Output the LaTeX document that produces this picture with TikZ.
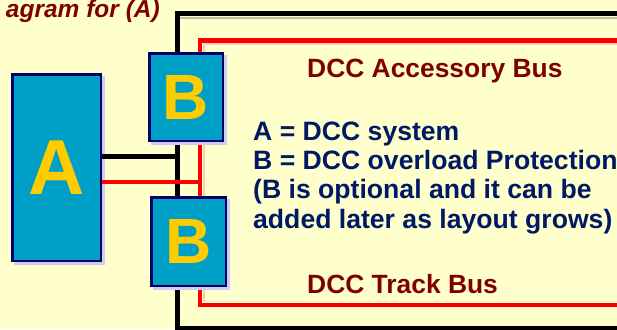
\documentclass[tikz,border=0pt]{standalone}
\usepackage{fontspec}
\setmainfont{Liberation Sans}
\definecolor{bgyellow}{RGB}{255,255,204}
\definecolor{boxblue}{RGB}{0,159,198}
\definecolor{boxedge}{RGB}{0,0,102}
\definecolor{lettery}{RGB}{255,204,0}
\definecolor{darkred}{RGB}{128,0,0}
\definecolor{navytext}{RGB}{0,25,102}
\definecolor{busred}{RGB}{255,0,0}
\definecolor{shadowlav}{RGB}{205,205,245}
\definecolor{shadowgray}{RGB}{190,190,170}
\definecolor{shadowpink}{RGB}{255,200,190}
\tikzset{
  unitbox/.style={draw=boxedge, line width=2.5pt, fill=boxblue, inner sep=0pt,
    text=lettery, font=\bfseries},
  busline/.style={line width=4.5pt, busred},
  blackline/.style={line width=5pt, black},
  redlabel/.style={text=darkred, font=\fontsize{26.4}{30}\selectfont\bfseries, inner sep=0pt},
  bluelabel/.style={text=navytext, font=\fontsize{26.6}{29.3}\selectfont\bfseries, inner sep=0pt, align=left},
}
\begin{document}
\begin{tikzpicture}[x=1pt, y=-1pt]
\useasboundingbox (0,0) rectangle (617,329);
\clip (0,0) rectangle (617,329);
\fill[bgyellow] (0,0) rectangle (617,329);
% title
\node[anchor=base east, text=darkred, inner sep=0pt,
  font=\fontsize{24.5}{28}\selectfont\bfseries\itshape] (title) at (160,18) {agram for (A)};
% shadows of frames
\draw[line width=2pt, shadowgray] (180,18.5) -- (625,18.5);
\draw[line width=2pt, shadowpink] (203,44) -- (625,44);
\draw[line width=2pt, shadowpink] (203.5,44) -- (203.5,302);
% black outer frame
\draw[blackline] (625,14) -- (177,14) -- (177,328) -- (625,328);
% red inner frame (accessory bus and track bus)
\draw[busline] (625,40.5) -- (200,40.5) -- (200,305) -- (625,305);
\coordinate (blackjoin) at (177,156.5);
\coordinate (redjoin) at (200,182);
% box A
\fill[shadowlav] (14,76) rectangle (105,265);
\node[unitbox, minimum width=88.5pt, minimum height=186.5pt,
  font=\fontsize{78}{80}\selectfont\bfseries] (A) at (56.5,167.5) {A};
% connectors
\draw[blackline] (A.east |- blackjoin) -- (blackjoin);
\draw[busline] (A.east |- redjoin) -- (redjoin);
% boxes B
\fill[shadowlav] (151,55) rectangle (227,145);
\node[unitbox, minimum width=73.5pt, minimum height=87.5pt,
  font=\fontsize{64}{66}\selectfont\bfseries] (B1) at (186,97) {B};
\fill[shadowlav] (153,199) rectangle (230,290);
\node[unitbox, minimum width=74.5pt, minimum height=88.5pt,
  font=\fontsize{64}{66}\selectfont\bfseries] (B2) at (188.5,241.7) {B};
% labels
\node[redlabel, anchor=base west] (acc) at (307,77) {DCC Accessory Bus};
\node[redlabel, anchor=base west] (track) at (307,293.5) {DCC Track Bus};
\node[bluelabel, anchor=base west] (l1) at (253,140) {A = DCC system};
\node[bluelabel, anchor=base west] (l2) at (253,169.3) {B = DCC overload Protection};
\node[bluelabel, anchor=base west] (l3) at (253,198.6) {(B is optional and it can be};
\node[bluelabel, anchor=base west] (l4) at (253,228) {added later as layout grows)};
\end{tikzpicture}
\end{document}
